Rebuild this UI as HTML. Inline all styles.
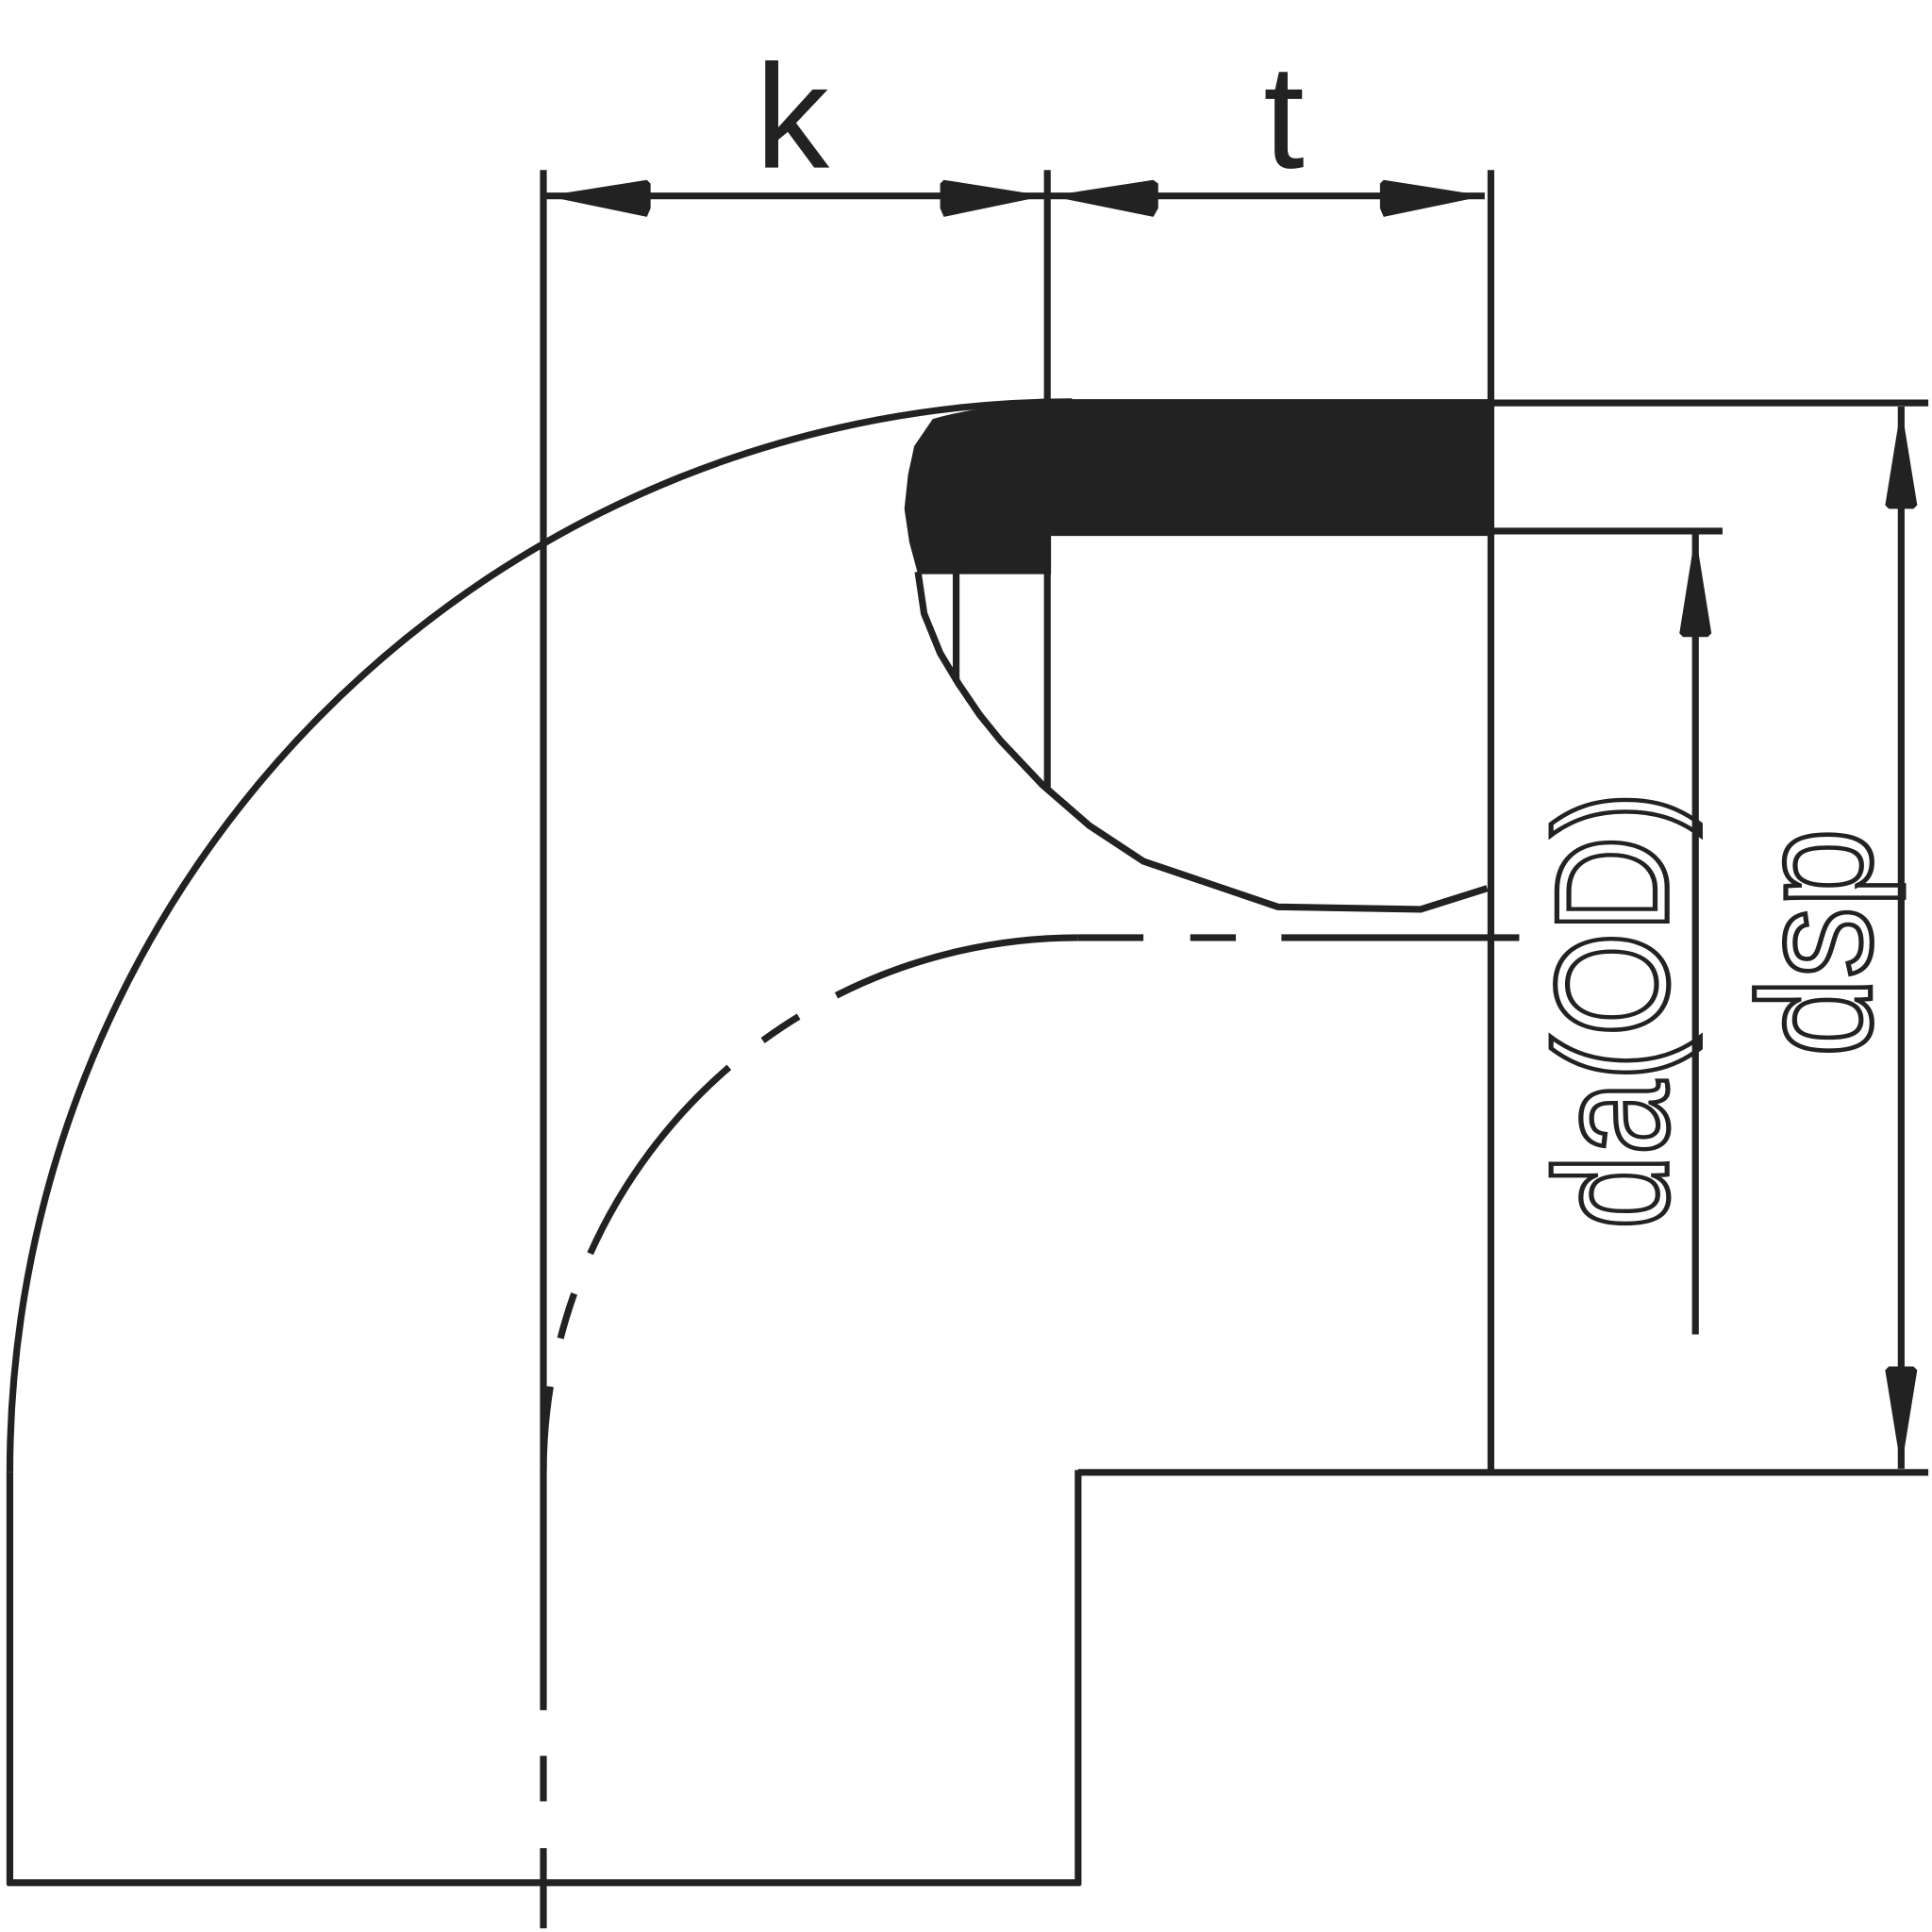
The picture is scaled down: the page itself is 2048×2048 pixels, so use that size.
<!DOCTYPE html>
<html><head><style>html,body{margin:0;padding:0;background:#fff}svg{display:block}</style></head>
<body>
<svg width="2048" height="2048" viewBox="0 0 1568 1568" xmlns="http://www.w3.org/2000/svg">
<g fill="none" stroke="#222" stroke-width="5.5">
<line x1="441" y1="138" x2="441" y2="1388"/>
<line x1="441" y1="1425" x2="441" y2="1462"/>
<line x1="441" y1="1500" x2="441" y2="1565"/>
<line x1="850" y1="138" x2="850" y2="640"/>
<line x1="1210" y1="138" x2="1210" y2="1195"/>
<line x1="441" y1="159" x2="1205" y2="159"/>
<path d="M8,1195 A862,869 0 0 1 870,326"/>
<line x1="1210" y1="327" x2="1565" y2="327"/>
<line x1="1210" y1="431" x2="1398" y2="431"/>
<polyline points="745,464 750,498 763,530 778,555 795,580 812,601 846,637 884,670 928,699 1037,736 1153,738 1207,721"/>
<line x1="776" y1="464" x2="776" y2="553"/>
<path d="M441,1195 A434,434 0 0 1 875,761" stroke-dasharray="70,40,38,35,190,35,35,35,260"/>
<line x1="875" y1="761" x2="928" y2="761"/>
<line x1="966" y1="761" x2="1003" y2="761"/>
<line x1="1040" y1="761" x2="1233" y2="761"/>
<line x1="875" y1="1195" x2="1565" y2="1195"/>
<line x1="875" y1="1193" x2="875" y2="1530"/>
<line x1="6" y1="1528" x2="877" y2="1528"/>
<line x1="8" y1="1195" x2="8" y2="1530"/>
<line x1="1543" y1="330" x2="1543" y2="1192"/>
<line x1="1376" y1="433" x2="1376" y2="1083"/>
</g>
<g fill="#222">
<path d="M870,324 L1212,324 L1212,435 L853,435 L853,466 L745,466 L738,440 L734,413 L737,385 L742,362 L757,340 Q800,328 870,324 Z"/>
<polygon points="443,159 525,146 528,149 528,169 525,176"/>
<polygon points="848,159 766,146 763,149 763,169 766,176"/>
<polygon points="852,159 936,146 940,149 940,169 936,176"/>
<polygon points="1205,159 1123,146 1120,149 1120,169 1123,176"/>
<polygon points="1543,330 1530,410 1533,413 1553,413 1556,410"/>
<polygon points="1543,1192 1530,1112 1533,1109 1553,1109 1556,1112"/>
<polygon points="1376,433 1363,514 1366,517 1386,517 1389,514"/>
</g>
<g font-family="Liberation Sans, sans-serif" fill="#222">
<text x="643" y="136" font-size="120" text-anchor="middle">k</text>
<text x="1042" y="136" font-size="120" text-anchor="middle">t</text>
<text transform="translate(1353,820) rotate(-90)" font-size="130" text-anchor="middle" textLength="355" lengthAdjust="spacingAndGlyphs" fill="none" stroke="#222" stroke-width="4">da(OD)</text>
<text transform="translate(1518,765) rotate(-90)" font-size="130" text-anchor="middle" textLength="185" lengthAdjust="spacingAndGlyphs" fill="none" stroke="#222" stroke-width="4">dsp</text>
</g>
</svg>
</body></html>
